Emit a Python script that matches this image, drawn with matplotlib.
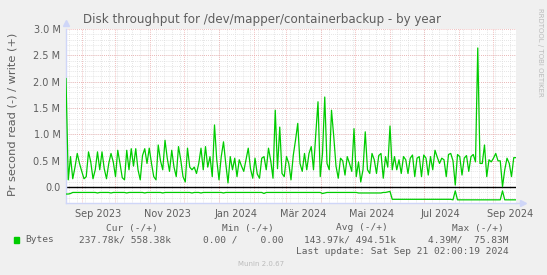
import numpy as np
import matplotlib
matplotlib.use("Agg")
import matplotlib.pyplot as plt

W, H = 547, 275

# write (+), one value every 2 days, in M bytes/s
write_vals = [
    2.06, 0.14, 0.58, 0.16, 0.38, 0.64, 0.45, 0.30, 0.16, 0.20,
    0.67, 0.48, 0.16, 0.33, 0.67, 0.33, 0.67, 0.35, 0.16, 0.45,
    0.64, 0.48, 0.20, 0.70, 0.45, 0.18, 0.14, 0.70, 0.33, 0.73,
    0.40, 0.73, 0.33, 0.14, 0.60, 0.73, 0.45, 0.74, 0.45, 0.20,
    0.14, 0.80, 0.50, 0.33, 0.89, 0.55, 0.30, 0.70, 0.38, 0.20,
    0.77, 0.52, 0.20, 0.10, 0.74, 0.38, 0.33, 0.38, 0.26, 0.45,
    0.74, 0.33, 0.77, 0.38, 0.58, 0.20, 1.18, 0.52, 0.14, 0.58,
    0.86, 0.45, 0.08, 0.58, 0.33, 0.55, 0.20, 0.52, 0.40, 0.30,
    0.52, 0.74, 0.35, 0.17, 0.55, 0.25, 0.17, 0.55, 0.58, 0.33,
    0.74, 0.50, 0.17, 1.46, 0.35, 1.14, 0.26, 0.20, 0.58, 0.45,
    0.14, 0.60, 0.89, 1.21, 0.45, 0.30, 0.64, 0.33, 0.64, 0.77,
    0.33, 1.00, 1.62, 0.20, 0.64, 1.71, 0.45, 0.33, 1.46, 0.96,
    0.40, 0.17, 0.55, 0.50, 0.23, 0.58, 0.45, 0.30, 1.11, 0.20,
    0.48, 0.10, 0.33, 1.05, 0.33, 0.26, 0.64, 0.52, 0.26, 0.60,
    0.64, 0.17, 0.58, 0.38, 1.16, 0.33, 0.58, 0.33, 0.52, 0.26,
    0.58, 0.52, 0.26, 0.55, 0.61, 0.20, 0.55, 0.58, 0.20, 0.61,
    0.55, 0.23, 0.58, 0.33, 0.70, 0.57, 0.45, 0.55, 0.52, 0.20,
    0.62, 0.64, 0.50, 0.04, 0.62, 0.58, 0.23, 0.55, 0.60, 0.30,
    0.58, 0.62, 0.48, 2.64, 0.45, 0.45, 0.80, 0.20, 0.52, 0.48,
    0.55, 0.64, 0.50, 0.50, 0.01, 0.33, 0.55, 0.45, 0.20, 0.56,
    0.56,
]

# read (-), same dates, in M bytes/s (drawn below zero)
read_vals = [
    0.13, 0.13, 0.12, 0.10, 0.10, 0.10, 0.10, 0.10, 0.10, 0.10,
    0.10, 0.10, 0.10, 0.10, 0.11, 0.10, 0.10, 0.10, 0.10, 0.10,
    0.11, 0.10, 0.10, 0.10, 0.10, 0.10, 0.10, 0.11, 0.10, 0.10,
    0.10, 0.10, 0.10, 0.10, 0.10, 0.11, 0.10, 0.10, 0.10, 0.10,
    0.10, 0.10, 0.10, 0.11, 0.10, 0.10, 0.10, 0.10, 0.10, 0.10,
    0.10, 0.10, 0.10, 0.10, 0.10, 0.10, 0.11, 0.10, 0.10, 0.10,
    0.11, 0.10, 0.10, 0.10, 0.10, 0.10, 0.10, 0.10, 0.10, 0.10,
    0.11, 0.10, 0.10, 0.10, 0.10, 0.10, 0.10, 0.10, 0.10, 0.10,
    0.10, 0.10, 0.10, 0.10, 0.10, 0.10, 0.10, 0.10, 0.12, 0.10,
    0.10, 0.10, 0.10, 0.10, 0.10, 0.10, 0.10, 0.10, 0.10, 0.10,
    0.10, 0.10, 0.10, 0.10, 0.10, 0.10, 0.10, 0.10, 0.10, 0.10,
    0.10, 0.10, 0.10, 0.10, 0.12, 0.11, 0.10, 0.10, 0.10, 0.10,
    0.10, 0.10, 0.10, 0.10, 0.10, 0.10, 0.10, 0.10, 0.10, 0.10,
    0.11, 0.11, 0.11, 0.11, 0.11, 0.11, 0.11, 0.11, 0.11, 0.11,
    0.11, 0.10, 0.10, 0.09, 0.08, 0.23, 0.23, 0.23, 0.23, 0.23,
    0.23, 0.23, 0.23, 0.23, 0.23, 0.23, 0.23, 0.23, 0.23, 0.23,
    0.23, 0.23, 0.23, 0.23, 0.23, 0.23, 0.23, 0.23, 0.23, 0.23,
    0.23, 0.23, 0.24, 0.07, 0.24, 0.24, 0.24, 0.24, 0.24, 0.24,
    0.24, 0.24, 0.24, 0.24, 0.24, 0.24, 0.24, 0.24, 0.24, 0.24,
    0.24, 0.24, 0.24, 0.24, 0.07, 0.24, 0.24, 0.24, 0.24, 0.24,
    0.24,
]

start = np.datetime64("2023-08-18T02:00")
end = np.datetime64("2024-09-21T02:00")
dates = start + (np.arange(len(write_vals)) * 2).astype("timedelta64[D]")

month_labels = ["Sep 2023", "Nov 2023", "Jan 2024", "M\u00e4r 2024",
                "Mai 2024", "Jul 2024", "Sep 2024"]
label_months = ["2023-09", "2023-11", "2024-01", "2024-03",
                "2024-05", "2024-07", "2024-09"]
y_ticks = [0.0, 0.5, 1.0, 1.5, 2.0, 2.5, 3.0]
y_labels = ["0.0", "0.5 M", "1.0 M", "1.5 M", "2.0 M", "2.5 M", "3.0 M"]

legend_heads = ["Cur (-/+)", "Min (-/+)", "Avg (-/+)", "Max (-/+)"]
legend_vals = ["237.78k/ 558.38k", "0.00 /    0.00", "143.97k/ 494.51k", "4.39M/  75.83M"]

FONT = "#5E5E5E"
AXIS = "#CFD6F8"
GREEN = "#00CC00"

fig = plt.figure(figsize=(W / 100, H / 100), dpi=100, facecolor="#F0F0F0")
# plot area in pixels: x 66..516, y 29..203
ax = fig.add_axes([66 / W, 1 - 203 / H, 450 / W, 174 / H])
ax.set_facecolor("white")
ax.set_xlim(start, end)
ax.set_ylim(-0.3, 3.0)

# grid: minor (weekly / 0.1M) grey, major (monthly / 0.5M) red-ish
for wk in np.arange(np.datetime64("2023-08-21"), np.datetime64("2024-09-21"), 7):
    ax.axvline(wk, color="#DCDCDC", lw=0.6, ls=(0, (1, 1.5)), zorder=0)
for m in np.arange(np.datetime64("2023-09"), np.datetime64("2024-10"), dtype="datetime64[M]"):
    ax.axvline(m.astype("datetime64[D]"), color="#EDA8A8", lw=0.6, ls=(0, (1, 1.5)), zorder=0.5)
for yv in np.arange(-3, 30) / 10:
    ax.axhline(yv, color="#DCDCDC", lw=0.6, ls=(0, (1, 1.5)), zorder=0)
for yv in y_ticks[1:]:
    ax.axhline(yv, color="#EDA8A8", lw=0.6, ls=(0, (1, 1.5)), zorder=0.5)

ax.axhline(0, color="black", lw=1.0, zorder=2)
ax.plot(dates, write_vals, color=GREEN, lw=0.9, zorder=3)
ax.plot(dates, [-v for v in read_vals], color=GREEN, lw=0.9, zorder=3)

# ticks
tick_pos = [np.datetime64(m + "-16") for m in label_months]
ax.set_xticks(tick_pos)
ax.set_xticklabels(month_labels)
ax.set_yticks(y_ticks)
ax.set_yticklabels(y_labels)
ax.tick_params(length=0, labelsize=7, colors=FONT, pad=4)

for s in ["top", "right"]:
    ax.spines[s].set_visible(False)
for s in ["left", "bottom"]:
    ax.spines[s].set_color(AXIS)
    ax.spines[s].set_linewidth(1)
ax.plot([0], [1.035], marker="^", color=AXIS, ms=4, transform=ax.transAxes, clip_on=False)
ax.plot([1.015], [0], marker=">", color=AXIS, ms=4, transform=ax.transAxes, clip_on=False)
ax.plot([1, 1.015], [0, 0], color=AXIS, lw=1, transform=ax.transAxes, clip_on=False)

fig.text(262 / W, 1 - 20 / H, "Disk throughput for /dev/mapper/containerbackup - by year",
         ha="center", va="center", fontsize=8.6, color=FONT)
fig.text(13 / W, 1 - 114 / H, "Pr second read (-) / write (+)", rotation=90,
         ha="center", va="center", fontsize=8.2, color=FONT)
fig.text(540 / W, 1 - 52 / H, "RRDTOOL / TOBI OETIKER", rotation=270,
         ha="center", va="center", fontsize=5, color="#BBBBBB")

mono = "DejaVu Sans Mono"
for x, t in zip([106, 222, 336, 452], legend_heads):
    fig.text(x / W, 1 - 228 / H, t, family=mono, fontsize=6.8, color=FONT, va="center")
fig.patches.append(plt.Rectangle((14 / W, 1 - 243 / H), 5 / W, 6 / H,
                                 transform=fig.transFigure, color=GREEN, figure=fig))
fig.text(25 / W, 1 - 240 / H, "Bytes", family=mono, fontsize=6.8, color=FONT, va="center")
for x, t in zip([79, 203, 304, 428], legend_vals):
    fig.text(x / W, 1 - 240 / H, t, family=mono, fontsize=6.8, color=FONT, va="center")
fig.text(509 / W, 1 - 251 / H, "Last update: Sat Sep 21 02:00:19 2024", family=mono,
         fontsize=6.8, color=FONT, va="center", ha="right")
fig.text(261 / W, 1 - 264 / H, "Munin 2.0.67", fontsize=5, color="#BBBBBB",
         ha="center", va="center")

fig.savefig("out.png", dpi=100, facecolor=fig.get_facecolor())
